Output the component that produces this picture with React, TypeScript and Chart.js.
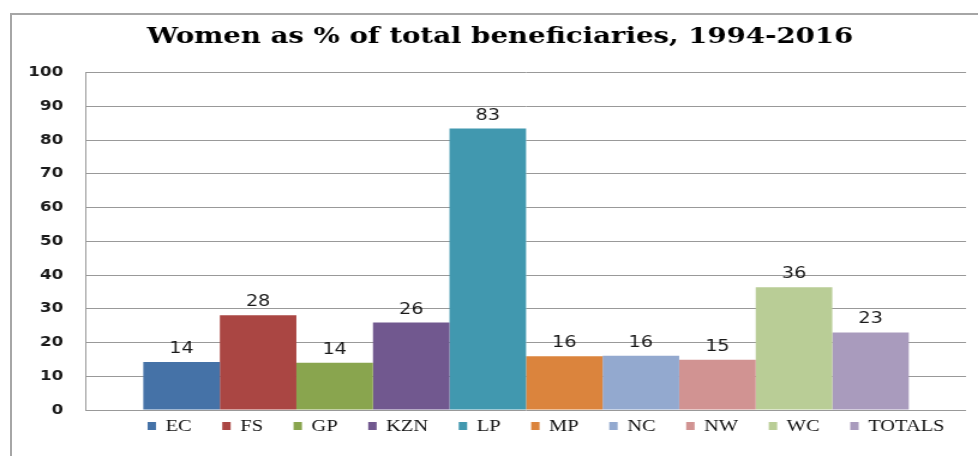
import React, { useEffect, useRef } from "react";
import { Chart, registerables } from "chart.js";

Chart.register(...registerables);

const chartTitle = "Women as % of total beneficiaries, 1994-2016";
const regions = ["EC", "FS", "GP", "KZN", "LP", "MP", "NC", "NW", "WC", "TOTALS"];
const values = [14.2, 28.1, 14.0, 25.9, 83.4, 15.9, 16.1, 14.9, 36.4, 23.0];
const colors = ["#4572A7", "#AA4643", "#89A54E", "#71588F", "#4198AF", "#DB843D", "#93A9CF", "#D19392", "#B9CD96", "#A99BBD"];
const yTicks = [0, 10, 20, 30, 40, 50, 60, 70, 80, 90, 100];

const STRETCH = 1.2;
const W = Math.round(978 / STRETCH);
const H = 456;
const TITLE_FONT = "bold 23px 'DejaVu Serif'";

const valueLabels = {
  id: "valueLabels",
  afterDatasetsDraw(chart: any) {
    const ctx = chart.ctx;
    ctx.save();
    ctx.font = "16px 'DejaVu Sans'";
    ctx.fillStyle = "#1a1a1a";
    ctx.textAlign = "center";
    ctx.textBaseline = "alphabetic";
    chart.data.datasets.forEach((ds: any, i: number) => {
      const meta = chart.getDatasetMeta(i);
      meta.data.forEach((bar: any, j: number) => {
        ctx.fillText(String(Math.round(ds.data[j])), bar.x, bar.y - 9);
      });
    });
    ctx.restore();
  },
};

const titleText = {
  id: "titleText",
  afterDraw(chart: any) {
    const tb = chart.titleBlock;
    if (!tb) return;
    const ctx = chart.ctx;
    ctx.save();
    ctx.font = TITLE_FONT;
    ctx.fillStyle = "#000";
    ctx.textAlign = "center";
    ctx.textBaseline = "middle";
    const cx = (tb.left + tb.right) / 2 + 12;
    const cy = tb.top + (tb.bottom - tb.top) / 2 + 1;
    ctx.fillText(chartTitle, cx, cy);
    ctx.restore();
  },
};

const bottomLegend = {
  id: "bottomLegend",
  afterDraw(chart: any) {
    const ctx = chart.ctx;
    const area = chart.chartArea;
    ctx.save();
    ctx.font = "17px 'Liberation Serif'";
    const box = 7;
    const boxH = 8;
    const gap = 8;
    const spacing = 25.5;
    const items = chart.data.datasets.map((ds: any) => ({
      text: ds.label,
      color: ds.backgroundColor,
      w: box + gap + ctx.measureText(ds.label).width,
    }));
    const total = items.reduce((s: number, it: any) => s + it.w, 0) + spacing * (items.length - 1);
    let x = area.right - 18 - total;
    const y = area.bottom + 16;
    ctx.textBaseline = "middle";
    ctx.textAlign = "left";
    items.forEach((it: any) => {
      ctx.fillStyle = it.color;
      ctx.fillRect(x, y - boxH / 2, box, boxH);
      ctx.fillStyle = "#111";
      ctx.fillText(it.text, x + box + gap, y + 1);
      x += it.w + spacing;
    });
    ctx.restore();
  },
};

export default function App() {
  const ref = useRef<HTMLCanvasElement>(null);
  useEffect(() => {
    const chart = new Chart(ref.current as HTMLCanvasElement, {
      type: "bar",
      data: {
        labels: [""],
        datasets: regions.map((r, i) => ({
          label: r,
          data: [values[i]],
          backgroundColor: colors[i],
          borderWidth: 0,
          barPercentage: 1,
          categoryPercentage: 0.87,
        })),
      },
      options: {
        responsive: false,
        animation: false,
        devicePixelRatio: 1,
        layout: { padding: { top: 0, left: 4.5, right: 10, bottom: 46 } },
        plugins: {
          legend: { display: false },
          tooltip: { enabled: false },
          title: {
            display: true,
            text: chartTitle,
            color: "rgba(0,0,0,0)",
            font: { family: "'DejaVu Serif'", weight: "bold", size: 23 },
            padding: { top: 26, bottom: 19 },
          },
        },
        scales: {
          x: { display: false },
          y: {
            min: 0,
            max: 100,
            afterBuildTicks: (scale: any) => {
              scale.ticks = yTicks.map((v) => ({ value: v }));
            },
            ticks: {
              padding: 19,
              color: "#1a1a1a",
              font: { family: "'DejaVu Sans'", weight: "bold", size: 14 },
            },
            grid: { color: "#999", drawTicks: false },
            border: { display: true, color: "#999", width: 1 },
          },
        },
      } as any,
      plugins: [valueLabels, titleText, bottomLegend],
    });
    return () => chart.destroy();
  }, []);

  return (
    <>
      <div
        style={{
          position: "fixed",
          left: 10,
          top: 13,
          width: 1200,
          height: 700,
          border: "2px solid #a6a6a6",
          boxSizing: "border-box",
        }}
      />
      <div
        style={{
          position: "fixed",
          left: 0,
          top: 0,
          width: W,
          height: H,
          transform: `scaleX(${STRETCH})`,
          transformOrigin: "0 0",
        }}
      >
        <canvas ref={ref} width={W} height={H} style={{ display: "block", width: W, height: H }} />
      </div>
    </>
  );
}
